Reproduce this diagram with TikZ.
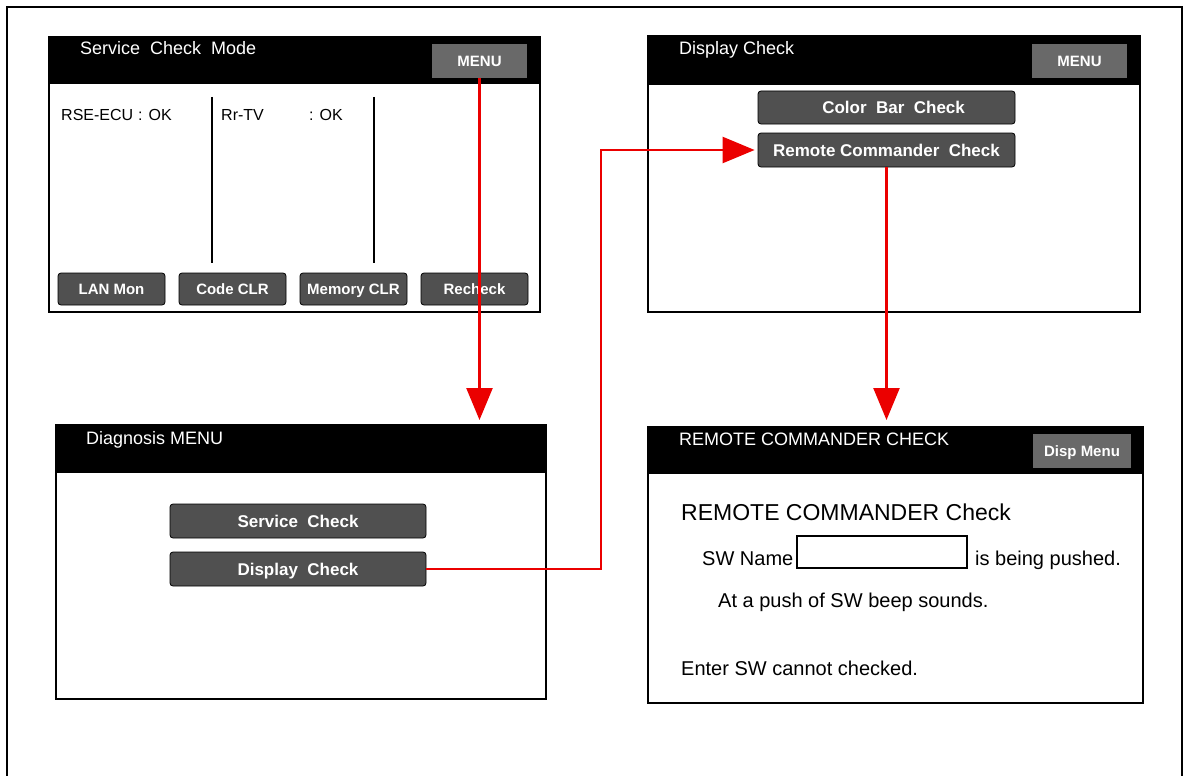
\documentclass[tikz,border=0pt]{standalone}
\usepackage{fontspec}
\setmainfont{Liberation Sans}
\usetikzlibrary{arrows.meta}
\definecolor{btngray}{RGB}{80,80,80}
\definecolor{menugray}{RGB}{105,105,105}
\definecolor{arrred}{RGB}{235,0,0}
\begin{document}
\begin{tikzpicture}[x=1pt,y=-1pt,
  screen/.style={draw=black, line width=1.6pt, fill=white, anchor=north west, inner sep=0pt},
  header/.style={fill=black},
  btn/.style={draw=black, line width=0.8pt, fill=btngray, rounded corners=3pt, text=white, inner sep=0pt, text height=12.2pt, text depth=0pt, font=\bfseries\fontsize{17}{20}\selectfont},
  lowbtn/.style={btn, text height=10.8pt, font=\bfseries\fontsize{15}{18}\selectfont, minimum width=107pt, minimum height=32pt},
  smallbtn/.style={btn, rounded corners=0pt, draw=none, fill=menugray, text height=10.8pt, font=\bfseries\fontsize{15}{18}\selectfont},
  htitle/.style={anchor=base west, text=white, inner sep=0pt, font=\fontsize{18}{21}\selectfont},
  body/.style={anchor=base west, inner sep=0pt, font=\fontsize{16}{19}\selectfont},
  rbody/.style={anchor=base west, inner sep=0pt, font=\fontsize{20}{24}\selectfont},
  divider/.style={line width=1.4pt},
  redarrow/.style={draw=arrred, line width=2.4pt, -{Triangle[length=32pt,width=26pt]}},
]
\useasboundingbox (0,0) rectangle (1184,776);
\fill[white] (0,0) rectangle (1184,776);
% outer frame
\draw[line width=2pt] (7,790) -- (7,7) -- (1182,7) -- (1182,790);

% ---------- Screen 1: Service Check Mode ----------
\node[screen, minimum width=491pt, minimum height=275pt] (s1) at (48,36) {};
\fill[header] (48,36) rectangle (539,84);
\node[htitle] (s1t) at (80,55) {Service\ \ Check\ \ Mode};
\node[smallbtn, minimum width=95pt, minimum height=34pt] (menu1) at (479.5,61) {MENU};
\node[body] (rse) at (61,121) {RSE-ECU};
\node[body] (rseok) at (138,121) {: OK};
\node[body] (rr) at (221,121) {Rr-TV};
\node[body] (rrok) at (309,121) {: OK};
\draw[divider] (212,97) -- (212,263);
\draw[divider] (374,97) -- (374,263);
\node[lowbtn] (lan) at (111.5,289) {LAN Mon};
\node[lowbtn] (code) at (232.5,289) {Code CLR};
\node[lowbtn] (mem) at (353.5,289) {Memory CLR};
\node[lowbtn] (rech) at (474.5,289) {Recheck};

% ---------- Screen 2: Display Check ----------
\node[screen, minimum width=492pt, minimum height=276pt] (s2) at (647,35) {};
\fill[header] (647,35) rectangle (1139,85);
\node[htitle] (s2t) at (679,55) {Display Check};
\node[smallbtn, minimum width=95pt, minimum height=34pt] (menu2) at (1079.5,61) {MENU};
\node[btn, minimum width=257pt, minimum height=33pt] (cbar) at (886.5,107.5) {\ \ \ Color\ \ Bar\ \ Check};
\node[btn, minimum width=257pt, minimum height=34pt] (rcbtn) at (886.5,150) {Remote Commander\ \ Check};

% ---------- Screen 3: Diagnosis MENU ----------
\node[screen, minimum width=490pt, minimum height=274pt] (s3) at (55,424) {};
\fill[header] (55,424) rectangle (545,473);
\node[htitle] (s3t) at (86,444) {Diagnosis MENU};
\node[btn, minimum width=256pt, minimum height=34pt] (svc) at (298,521) {Service\ \ Check};
\node[btn, minimum width=256pt, minimum height=34pt] (disp) at (298,569) {Display\ \ Check};

% ---------- Screen 4: REMOTE COMMANDER CHECK ----------
\node[screen, minimum width=495pt, minimum height=276pt] (s4) at (647,426) {};
\fill[header] (647,426) rectangle (1142,474);
\node[htitle] (s4t) at (679,445) {REMOTE COMMANDER CHECK};
\node[smallbtn, minimum width=98pt, minimum height=34pt] (dmenu) at (1082,451) {Disp Menu};
\node[anchor=base west, inner sep=0pt, font=\fontsize{23}{27}\selectfont] (rct) at (681,520) {REMOTE COMMANDER Check};
\node[rbody] (swn) at (702,565) {SW Name};
\node[draw=black, line width=1.2pt, minimum width=170pt, minimum height=32pt, inner sep=0pt] (swbox) at (882,552) {};
\node[rbody] (push) at (975,565) {is being pushed.};
\node[rbody] (beep) at (718,607) {At a push of SW beep sounds.};
\node[rbody] (enter) at (681,675) {Enter SW cannot checked.};

% ---------- connectors ----------
\coordinate (turn) at (601,0);
\draw[redarrow, shorten >=4pt] (menu1.south) -- (menu1.south |- s3.north);
\draw[redarrow, shorten >=3pt] (disp.east) -- (disp.east -| turn) |- (rcbtn.west);
\draw[redarrow, shorten >=6pt] (rcbtn.south) -- (rcbtn.south |- s4.north);
\end{tikzpicture}
\end{document}
